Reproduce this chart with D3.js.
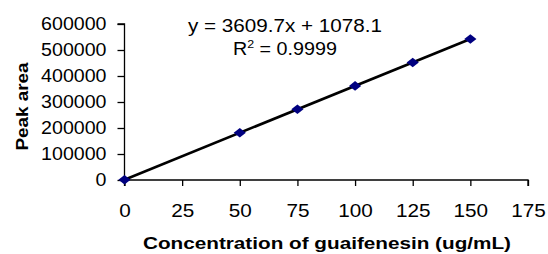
<!DOCTYPE html>
<html>
<head>
<meta charset="utf-8">
<script src="https://cdn.jsdelivr.net/npm/d3@7"></script>
<style>
  body { margin: 0; background: #fff; }
  svg text { font-family: "Liberation Sans", Arial, sans-serif; fill: #000; }
</style>
</head>
<body>
<svg id="canvas"></svg>
<script>
const concentrations = [0, 50, 75, 100, 125, 150];
const peakAreas = [1100, 181500, 271800, 362000, 452300, 542500];
const xTicks = [0, 25, 50, 75, 100, 125, 150, 175];
const yTicks = [0, 100000, 200000, 300000, 400000, 500000, 600000];
const slope = 3609.7;
const intercept = 1078.1;

const width = 548;
const height = 254;
// the picture is a little wider than the font, stretch text to fit
const stretch = 1.12;

const canvas = d3.select("#canvas").attr("width", width).attr("height", height);

const xScale = d3.scaleLinear().domain([0, 175]).range([124.5, 528]);
const yScale = d3.scaleLinear().domain([0, 600000]).range([180, 24]);

const xAxis = d3.axisBottom(xScale).tickValues(xTicks).tickSize(6).tickFormat(d3.format("d"));
const yAxis = d3.axisLeft(yScale).tickValues(yTicks).tickSize(7).tickPadding(11).tickFormat(d3.format("d"));

const gx = canvas.append("g").attr("transform", "translate(0,180)").call(xAxis);
const gy = canvas.append("g").attr("transform", "translate(124.5,0)").call(yAxis);

[gx, gy].forEach((g) => {
  g.select(".domain").attr("stroke", "#000").attr("stroke-width", 1.3);
  g.selectAll(".tick line").attr("stroke", "#000").attr("stroke-width", 1.3);
  g.selectAll(".tick text")
    .attr("font-family", "Liberation Sans, Arial, sans-serif")
    .attr("fill", "#000");
});
gx.selectAll(".tick text").attr("font-size", 18.5).attr("y", 36.5).attr("dy", 0);
gy.selectAll(".tick text").attr("font-size", 17.5);
[gx, gy].forEach((g) => {
  g.selectAll(".tick text")
    .attr("textLength", function () { return this.getComputedTextLength() * stretch; })
    .attr("lengthAdjust", "spacingAndGlyphs");
});
gx.select(".domain").attr("d", `M${xScale(0)},6V0H${xScale(175)}V6`);
gy.select(".domain").attr("d", `M-7,${yScale(600000)}H0V${yScale(0)}`);

// trendline
canvas.append("line")
  .attr("x1", xScale(0))
  .attr("y1", yScale(intercept))
  .attr("x2", xScale(150))
  .attr("y2", yScale(slope * 150 + intercept))
  .attr("stroke", "#000")
  .attr("stroke-width", 2.6);

canvas.selectAll("path.pt")
  .data(concentrations)
  .enter()
  .append("path")
  .attr("class", "pt")
  .attr("d", d3.symbol().type(d3.symbolSquare).size(56))
  .attr("transform", (d, i) =>
    `translate(${xScale(d)},${yScale(peakAreas[i])}) scale(1.15,0.9) rotate(45)`)
  .attr("fill", "#000080");

canvas.append("text")
  .attr("x", 285).attr("y", 32)
  .attr("text-anchor", "middle")
  .attr("font-size", 17.5)
  .attr("textLength", 194)
  .attr("lengthAdjust", "spacingAndGlyphs")
  .text("y = 3609.7x + 1078.1");

const r2 = canvas.append("text")
  .attr("x", 285).attr("y", 55)
  .attr("text-anchor", "middle")
  .attr("font-size", 17.5)
  .attr("textLength", 104)
  .attr("lengthAdjust", "spacingAndGlyphs");
r2.append("tspan").text("R");
r2.append("tspan").attr("dy", -7.5).attr("font-size", 11).text("2");
r2.append("tspan").attr("dy", 7.5).text(" = 0.9999");

canvas.append("text")
  .attr("x", 327).attr("y", 249)
  .attr("text-anchor", "middle")
  .attr("font-size", 16.5)
  .attr("font-weight", "bold")
  .attr("textLength", 368)
  .attr("lengthAdjust", "spacingAndGlyphs")
  .text("Concentration of guaifenesin (ug/mL)");

canvas.append("text")
  .attr("transform", "translate(28,106.5) rotate(-90)")
  .attr("text-anchor", "middle")
  .attr("font-size", 17)
  .attr("font-weight", "bold")
  .attr("textLength", 88)
  .attr("lengthAdjust", "spacingAndGlyphs")
  .text("Peak area");
</script>
</body>
</html>
